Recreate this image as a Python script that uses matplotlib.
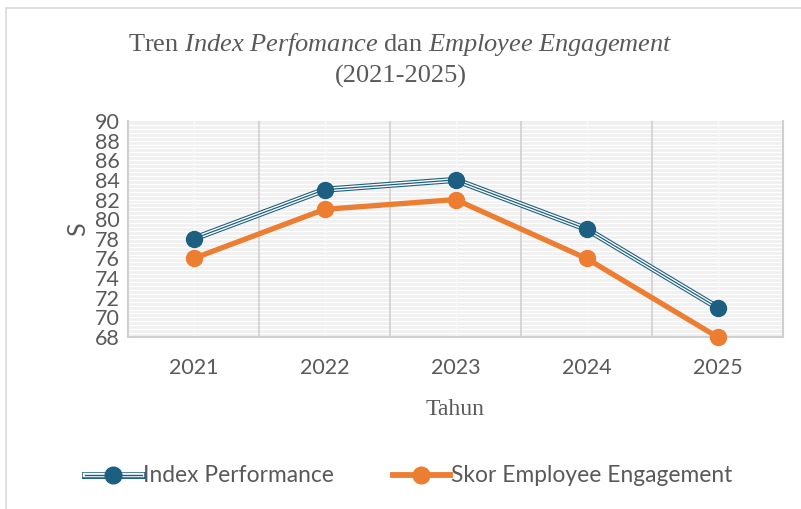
import numpy as np
import matplotlib.pyplot as plt
from matplotlib.patches import Rectangle
from matplotlib.lines import Line2D

years = ["2021", "2022", "2023", "2024", "2025"]
index_perf = [78, 83, 84, 79, 71]
skor_engagement = [76, 81, 82, 76, 68]
y_ticks = list(range(68, 91, 2))

blue = "#1d5f80"
orange = "#ED7D31"
text_gray = "#595959"

plt.rcParams["mathtext.fontset"] = "custom"
plt.rcParams["mathtext.rm"] = "Liberation Serif"
plt.rcParams["mathtext.it"] = "Liberation Serif:italic"

fig = plt.figure(figsize=(8.01, 5.09), dpi=100)
ax = fig.add_axes([128 / 801, 1 - 337 / 509, 655 / 801, 216 / 509])

# outer chart frame
fig.patches.append(Rectangle((6 / 801, -0.1), 1.2, 1 - 8 / 509 + 0.1,
                             transform=fig.transFigure, fill=False,
                             edgecolor="#d9d9d9", linewidth=1.2))

x = np.arange(len(years))
ax.set_facecolor("#f0f0f0")
ax.set_xlim(-0.5, len(years) - 0.5)
ax.set_ylim(68, 90)

# minor white horizontal gridlines
for yv in np.arange(68.4, 90, 0.4):
    ax.axhline(yv, color="white", linewidth=1.0, zorder=1)
# vertical lines
for xv in x:
    ax.axvline(xv, color="#f8f8f8", linewidth=1.0, zorder=1)
for xv in x[:-1] + 0.5:
    ax.axvline(xv, color="#d0d0d0", linewidth=1.2, zorder=1)

# blue compound line
ax.plot(x, index_perf, color=blue, linewidth=4.4, zorder=3)
ax.plot(x, index_perf, color="white", linewidth=2.8, zorder=3)
ax.plot(x, index_perf, color=blue, linewidth=0.9, zorder=3)
ax.plot(x, index_perf, linestyle="none", marker="o", markersize=11.5,
        color=blue, zorder=4, clip_on=False)

ax.plot(x, skor_engagement, color=orange, linewidth=3.8, marker="o",
        markersize=11.5, zorder=3, clip_on=False)

ax.set_xticks(x)
ax.set_xticklabels(years)
ax.set_yticks(y_ticks)
ax.tick_params(axis="both", length=0, labelsize=15.5, colors=text_gray)
ax.tick_params(axis="x", pad=15)
ax.tick_params(axis="y", pad=6)
for lab in ax.get_xticklabels() + ax.get_yticklabels():
    lab.set_fontfamily("Lato")

ax.spines["top"].set_visible(False)
for side in ["left", "right", "bottom"]:
    ax.spines[side].set_color("#d0d0d0")
    ax.spines[side].set_linewidth(1.5)

ax.set_ylabel("S", fontsize=18, color=text_gray, family="Lato", labelpad=4)
ax.set_xlabel("Tahun", fontsize=17, color=text_gray, family="Liberation Serif",
              labelpad=15)

fig.text(0.5, 1 - 45 / 509,
         r"Tren $\mathit{Index\ Perfomance}$ dan $\mathit{Employee\ Engagement}$",
         ha="center", va="center", fontsize=19, color=text_gray,
         family="Liberation Serif")
fig.text(0.5, 1 - 76 / 509, "(2021-2025)", ha="center", va="center",
         fontsize=19, color=text_gray, family="Liberation Serif")

h1 = [Line2D([], [], color=blue, linewidth=5),
      Line2D([], [], color="white", linewidth=3.2),
      Line2D([], [], color=blue, linewidth=1.0, marker="o", markersize=12)]
h2 = Line2D([], [], color=orange, linewidth=4.2, marker="o", markersize=12)
leg = fig.legend([tuple(h1), h2], ["Index Performance", "Skor Employee Engagement"],
                 loc="center", bbox_to_anchor=(0.51, 1 - 476 / 509), ncol=2,
                 frameon=False, handlelength=2.5, handletextpad=0.05,
                 columnspacing=2.6, prop={"family": "Lato", "size": 16.4})
for t in leg.get_texts():
    t.set_color(text_gray)

fig.savefig("out.png", dpi=100)
